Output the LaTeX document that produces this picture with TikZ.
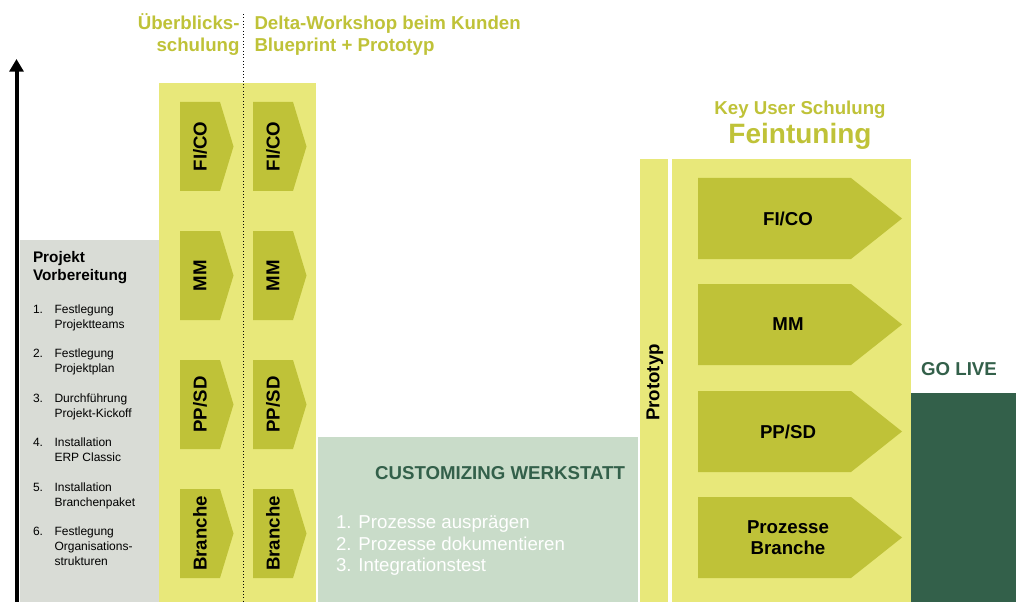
\documentclass[tikz,border=0pt]{standalone}
\usepackage{fontspec}
\setmainfont{Liberation Sans}
\usepackage{tikz}
\usetikzlibrary{arrows.meta, positioning}
\definecolor{hellgelb}{RGB}{232,232,122}
\definecolor{oliv}{RGB}{191,194,56}
\definecolor{hellgrau}{RGB}{217,220,214}
\definecolor{mintgruen}{RGB}{201,220,201}
\definecolor{dunkelgruen}{RGB}{51,96,74}

\begin{document}
\begin{tikzpicture}
                            [x=0.75pt, y=-0.75pt,
                             every node/.style={inner sep=0pt, outer sep=0pt},
                             flaeche/.style={fill=hellgelb},
                             pfeilform/.style={fill=oliv},
                             kopf/.style={text=oliv, font=\fontsize{14}{16.5}\selectfont\bfseries},
                             modul/.style={font=\fontsize{14}{16}\selectfont\bfseries, align=center},
                             punkt/.style={font=\fontsize{9}{11.25}\selectfont, anchor=base west, align=left}]

    \useasboundingbox (0,0) rectangle (1019,602);

    % Flaechen
    \fill[hellgrau] (20,240) rectangle (160,602);
    \fill[flaeche] (159,83) rectangle (316,602);
    \fill[mintgruen] (318,437) rectangle (638,602);
    \fill[flaeche] (640,159) rectangle (668,602);
    \fill[flaeche] (672,159) rectangle (911,602);
    \fill[dunkelgruen] (911,393) rectangle (1016,602);

    % Zeitachse
    \coordinate (achse-unten) at (16.5,602);
    \coordinate (achse-oben) at (16.5,59);
    \draw[line width=3pt, -{Triangle[width=10.5pt, length=9.5pt]}] (achse-unten) -- (achse-oben);

    \coordinate (trenn-oben) at (243.5,14);
    \coordinate (trenn-unten) at (243.5,602);
    \draw[dotted, line width=0.5pt] (trenn-oben) -- (trenn-unten);

    % Ueberschriften (base = letzte Zeile)
    \node[kopf, anchor=base east, align=right] (ueberblick) at (239.5,52) {Überblicks-\\schulung};
    \node[kopf, anchor=base west, align=left] (delta) at (254.5,52) {Delta-Workshop beim Kunden\\Blueprint + Prototyp};
    \node[kopf, anchor=base] (keyuser) at (800,115) {Key User Schulung};
    \node[anchor=base, text=oliv, font=\fontsize{21}{25}\selectfont\bfseries] (feintuning) at (800,144) {Feintuning};
    \node[anchor=base, text=dunkelgruen, font=\fontsize{14}{17}\selectfont\bfseries] (golive) at (959,375) {GO LIVE};

    % Projektvorbereitung
    \node[anchor=base west, align=left, font=\fontsize{11.5}{13.5}\selectfont\bfseries] (vorb-titel) at (33,280.5) {Projekt\\Vorbereitung};
    \foreach \nr/\txt/\yb/\yt in {1/{Festlegung\\Projektteams}/313/328, 2/{Festlegung\\Projektplan}/357.5/372.5,
                                  3/{Durchführung\\Projekt-Kickoff}/402/417, 4/{Installation\\ERP Classic}/446.5/461.5,
                                  5/{Installation\\Branchenpaket}/491/506, 6/{Festlegung\\Organisations-\\strukturen}/535.5/565.5}{
        \node[punkt] (nr-\nr) at (33,\yb) {\nr.};
        \node[punkt] (schritt-\nr) at (54.5,\yt) {\txt};
    }

    % kleine Pfeile
    \foreach \name/\txt/\ya in {fico/{FI/CO}/102, mm/MM/231, ppsd/{PP/SD}/360, branche/Branche/489}{
        \foreach \spalte/\xa in {a/180, b/253}{
            \fill[pfeilform] (\xa,\ya) -- ++(40,0) -- ++(13.5,44.5) -- ++(-13.5,44.5) -- ++(-40,0) -- cycle;
            \node[modul, rotate=90] (klein-\name-\spalte) at (\xa+20,\ya+44.5) {\txt};
        }
    }

    % Customizing
    \node[anchor=base east, text=dunkelgruen, font=\fontsize{14}{17}\selectfont\bfseries] (cust-titel) at (625,479) {CUSTOMIZING WERKSTATT};
    \node[anchor=base west, align=left, text=white, font=\fontsize{14}{16.1}\selectfont] (cust-liste) at (336,571.5)
        {1. Prozesse ausprägen\\2. Prozesse dokumentieren\\3. Integrationstest};

    \node[modul, rotate=90] (prototyp) at (655,382.5) {Prototyp};

    % grosse Pfeile
    \foreach \name/\txt/\ya in {fico/{FI/CO}/178, mm/MM/284, ppsd/{PP/SD}/391, branche/{Prozesse\\Branche}/497}{
        \fill[pfeilform] (698,\ya) -- ++(153,0) -- ++(51,40.5) -- ++(-51,40.5) -- ++(-153,0) -- cycle;
        \node[modul] (gross-\name) at (788,\ya+40.5) {\txt};
    }
\end{tikzpicture}
\end{document}
